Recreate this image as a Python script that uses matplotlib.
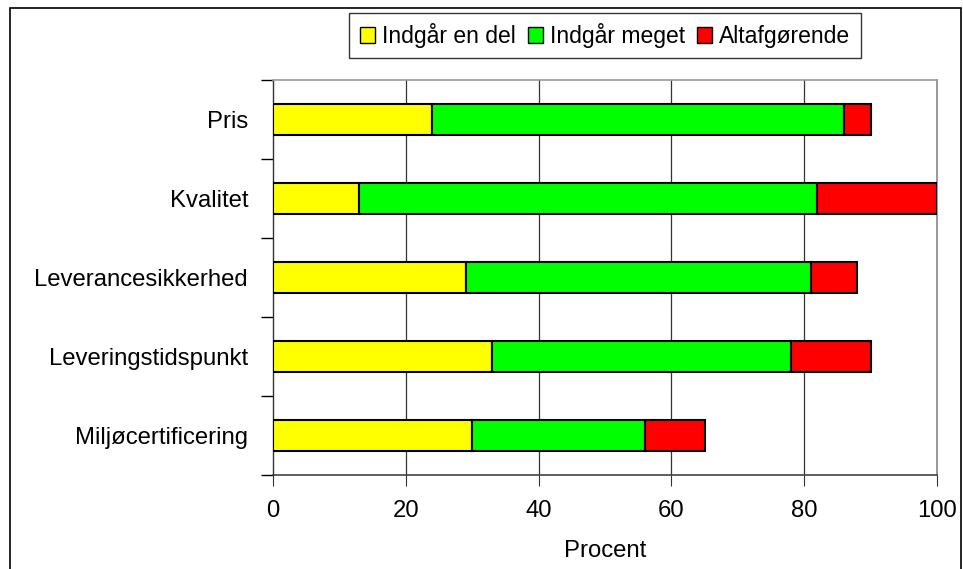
import matplotlib
matplotlib.use("Agg")
import matplotlib.pyplot as plt
from matplotlib.patches import Rectangle
import numpy as np

plt.rcParams['font.family'] = ['Liberation Sans', 'DejaVu Sans']

categories = ["Pris", "Kvalitet", "Leverancesikkerhed", "Leveringstidspunkt", "Miljøcertificering"]
series_names = ["Indgår en del", "Indgår meget", "Altafgørende"]
indgaar_en_del = [24, 13, 29, 33, 30]
indgaar_meget = [62, 69, 52, 45, 26]
altafgoerende = [4, 18, 7, 12, 9]
colors = ["#FFFF00", "#00FF00", "#FF0000"]
x_ticks = [0, 20, 40, 60, 80, 100]

FS = 17.2
FS_LEG = 16.5

W, H = 963, 569
fig = plt.figure(figsize=(W / 100, H / 100), dpi=100)
ax = fig.add_axes([273 / W, 1 - 475 / H, (937 - 273) / W, (475 - 80) / H])

y = np.arange(len(categories))
left = np.zeros(len(categories))
for name, vals, c in zip(series_names, [indgaar_en_del, indgaar_meget, altafgoerende], colors):
    ax.barh(y, vals, left=left, height=0.4, color=c, edgecolor="black", linewidth=1.5,
            label=name, zorder=3)
    left = left + np.array(vals)

ax.set_xlim(0, 100)
ax.set_ylim(len(categories) - 0.5, -0.5)
ax.set_xticks(x_ticks)
ax.set_xticklabels([str(t) for t in x_ticks], fontsize=FS)
ax.set_yticks(y)
ax.set_yticklabels(categories, fontsize=FS)
ax.set_yticks(np.arange(-0.5, len(categories), 1), minor=True)
ax.tick_params(axis="y", which="major", length=0, pad=18)
ax.tick_params(axis="y", which="minor", length=9, direction="out", color="black", width=1.0)
ax.tick_params(axis="x", which="major", length=8, direction="out", pad=10, color="#333333")

for gx in [20, 40, 60, 80]:
    ax.axvline(gx, color="#333333", linewidth=0.9, zorder=1)

ax.spines["top"].set_color("#999999")
ax.spines["top"].set_linewidth(1.2)
ax.spines["right"].set_color("#888888")
ax.spines["right"].set_linewidth(1.2)
ax.spines["bottom"].set_color("#333333")
ax.spines["bottom"].set_linewidth(1.1)
ax.spines["left"].set_color("#333333")
ax.spines["left"].set_linewidth(1.0)

ax.set_xlabel("Procent", fontsize=FS, labelpad=13)

leg = fig.legend(loc="center", bbox_to_anchor=(605 / W, 1 - 35.5 / H), ncol=3, fontsize=FS_LEG,
                 frameon=True, fancybox=False, edgecolor="black", handlelength=0.65,
                 handleheight=0.65, handletextpad=0.3, columnspacing=0.55, borderpad=0.45,
                 borderaxespad=0)
leg.get_frame().set_linewidth(1.0)
for h in leg.legend_handles:
    h.set_linewidth(1.0)

fig.patches.append(Rectangle((10 / W, -0.05), (961 - 10) / W, 1 - 8 / H + 0.05,
                             transform=fig.transFigure, fill=False, edgecolor="black",
                             linewidth=1.2))

fig.savefig("out.png", dpi=100)
